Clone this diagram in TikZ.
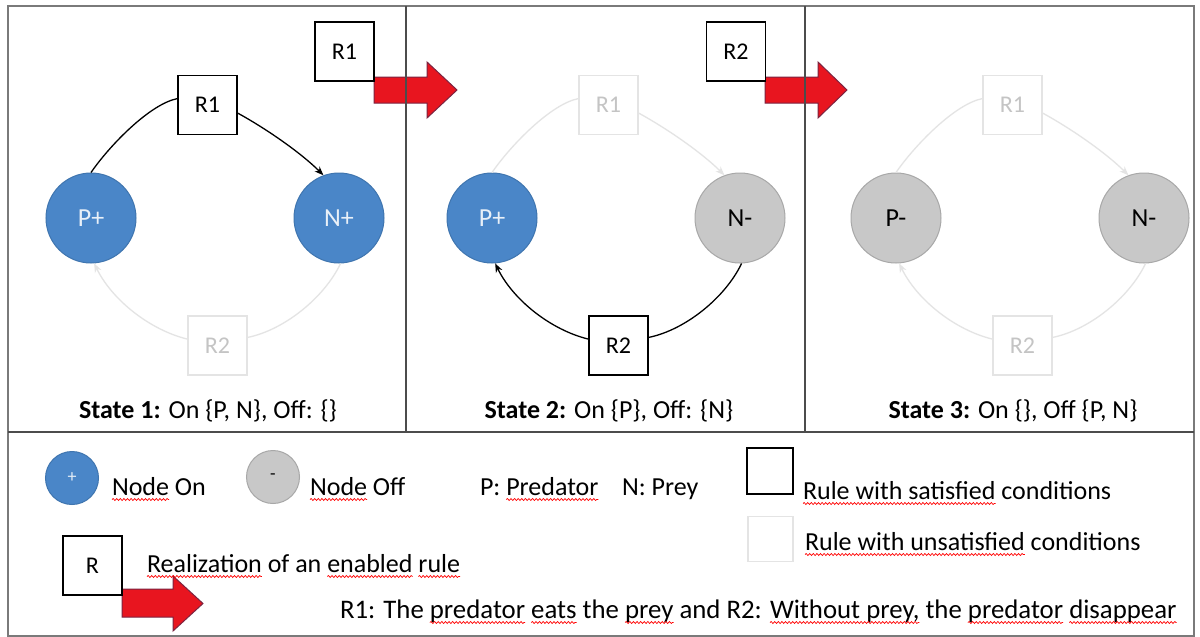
\documentclass[tikz,border=0pt]{standalone}
\usepackage{fontspec}
\setmainfont{Carlito}
\usetikzlibrary{arrows.meta,decorations.pathmorphing}
\definecolor{nodeblue}{HTML}{4A86C8}
\definecolor{blueedge}{HTML}{3F75AF}
\definecolor{nodegray}{HTML}{C8C8C8}
\definecolor{grayedge}{HTML}{A8A8A8}
\definecolor{fadeline}{HTML}{E4E4E4}
\definecolor{fadetext}{HTML}{C4C4C4}
\definecolor{arrowred}{HTML}{E8151F}
\definecolor{arrowedge}{HTML}{7B2340}
\definecolor{framegray}{HTML}{7A7A7A}
\newsavebox\wavebox
\newlength\wavelen
\newcommand\rwave[1]{\sbox\wavebox{#1}\setlength\wavelen{\wd\wavebox}%
\usebox\wavebox\llap{\tikz[baseline=0pt,x=1pt,y=1pt]{\path[use as bounding box] (0pt,0pt) rectangle (\wavelen,1pt);\draw[red, line width=0.7pt, decorate, decoration={snake, amplitude=1pt, segment length=3.6pt}] (0pt,-4.5pt) -- (\wavelen,-4.5pt);}}}
\tikzset{
  txt/.style={font=\fontsize{26}{30}\selectfont, inner sep=0pt, outer sep=0pt},
  rb on/.style={draw=black, line width=1.3pt, fill=white, minimum width=59pt, minimum height=59pt, inner sep=0pt, font=\fontsize{24}{28}\selectfont},
  rb fade/.style={rb on, draw=fadeline, text=fadetext},
  lk on/.style={line width=1.3pt, draw=black},
  lk fade/.style={line width=1.3pt, draw=fadeline},
  tip/.style={-{Stealth[length=9pt,width=7pt]}},
  onnode/.style={circle, fill=nodeblue, draw=blueedge, line width=1pt, minimum size=90pt, inner sep=0pt, text=white!88!nodeblue, font=\fontsize{26}{30}\selectfont},
  offnode/.style={circle, fill=nodegray, draw=grayedge, line width=1pt, minimum size=90pt, inner sep=0pt, text=black, font=\fontsize{26}{30}\selectfont},
  bigarrow/.style={fill=arrowred, draw=arrowedge, line width=1pt, line join=miter},
  divider/.style={draw=black!70, line width=1.6pt},
}
\newcommand\panel[9]{%
\begin{scope}[shift={(#1,0)}]
 \node[#3] (#2P) at (91,218) {#4};
 \node[#5] (#2N) at (339,218) {#6};
 \draw[lk #7] (#2P.north) .. controls (110,145) and (150,104) .. (#2R1.168);
 \draw[lk #7, tip] (#2R1.345) .. controls (265,128) and (300,152) .. (#2N.110);
 \draw[lk #8] (#2N.272) .. controls (324,298) and (284,330) .. (#2R2.15);
 \draw[lk #8, tip] (#2R2.168) .. controls (150,330) and (112,300) .. (#2P.274);
 \node[txt, anchor=base] (#2cap) at (208,418) {#9};
\end{scope}}
\begin{document}
\begin{tikzpicture}[x=1pt,y=-1pt]
\useasboundingbox (0,0) rectangle (1200,637);
\fill[white] (0,0) rectangle (1200,637);
% rule boxes first (so connectors can name them)
\node[rb on]   (aR1) at (207.5,105) {R1};
\node[rb fade] (aR2) at (217.5,345.5) {R2};
\node[rb fade] (bR1) at (608.5,105) {R1};
\node[rb on]   (bR2) at (618.5,345.5) {R2};
\node[rb fade] (cR1) at (1012.5,105) {R1};
\node[rb fade] (cR2) at (1022.5,345.5) {R2};
\panel{0}{a}{onnode}{P+}{onnode}{N+}{on}{fade}{\textbf{State 1:} On \{P, N\}, Off: \{\}}
\panel{401}{b}{onnode}{P+}{offnode}{N-}{fade}{on}{\textbf{State 2:} On \{P\}, Off: \{N\}}
\panel{805}{c}{offnode}{P-}{offnode}{N-}{fade}{fade}{\textbf{State 3:} On \{\}, Off \{P, N\}}
% redraw rule boxes on top of connectors
\node[rb on]   at (aR1) {R1};
\node[rb fade] at (aR2) {R2};
\node[rb fade] at (bR1) {R1};
\node[rb on]   at (bR2) {R2};
\node[rb fade] at (cR1) {R1};
\node[rb fade] at (cR2) {R2};
% big transition arrows
\draw[bigarrow] (374,77) -- (427,77) -- (427,62) -- (457,90) -- (427,118) -- (427,103) -- (374,103) -- cycle;
\draw[bigarrow] (765,77) -- (818,77) -- (818,62) -- (847,90) -- (818,118) -- (818,103) -- (765,103) -- cycle;
% frame
\draw[draw=framegray, line width=2pt] (8,6) rectangle (1194,636);
\draw[divider] (8,432) -- (1194,432);
\draw[divider] (406,6) -- (406,432);
\draw[divider] (805,6) -- (805,432);
% action boxes
\node[rb on] (act1) at (344.5,51.5) {R1};
\node[rb on] (act2) at (736,51.5) {R2};
% legend
\node[circle, fill=nodeblue, draw=blueedge, line width=1pt, minimum size=53pt, inner sep=0pt, text=white!85!nodeblue, font=\fontsize{18}{20}\selectfont] (lon) at (72,478) {+};
\node[txt, anchor=base west] (lonT) at (112,495) {\rwave{Node} On};
\node[circle, fill=nodegray, draw=grayedge, line width=1pt, minimum size=53pt, inner sep=0pt, text=black, font=\fontsize{18}{20}\selectfont] (loff) at (273,477) {-};
\node[txt, anchor=base west] (loffT) at (310,495) {\rwave{Node} Off};
\node[txt, anchor=base west] (lP) at (480,495) {P: \rwave{Predator}};
\node[txt, anchor=base west] (lN) at (622,495) {N: Prey};
\node[draw=black, line width=1.3pt, minimum size=46pt, inner sep=0pt] (lsat) at (770,471) {};
\node[txt, anchor=base west] (lsatT) at (803,499) {\rwave{Rule with satisfied} conditions};
\node[draw=fadeline, line width=1.3pt, minimum size=45pt, inner sep=0pt] (lunsat) at (770.5,539) {};
\node[txt, anchor=base west] (lunsatT) at (805,550) {\rwave{Rule with unsatisfied} conditions};
\draw[bigarrow] (122,589) -- (173,589) -- (173,576) -- (203,603.5) -- (173,631) -- (173,617) -- (122,617) -- cycle;
\node[rb on] (lR) at (92.5,565.5) {R};
\node[txt, anchor=base west] (lRT) at (147,572) {\rwave{Realization} of an \rwave{enabled} \rwave{rule}};
\node[txt, anchor=base west, font=\fontsize{26.8}{30}\selectfont] (lrules) at (340,618) {R1: The \rwave{predator} \rwave{eats} the \rwave{prey} and R2: \rwave{Without prey,} the \rwave{predator} \rwave{disappear}};
\end{tikzpicture}
\end{document}
